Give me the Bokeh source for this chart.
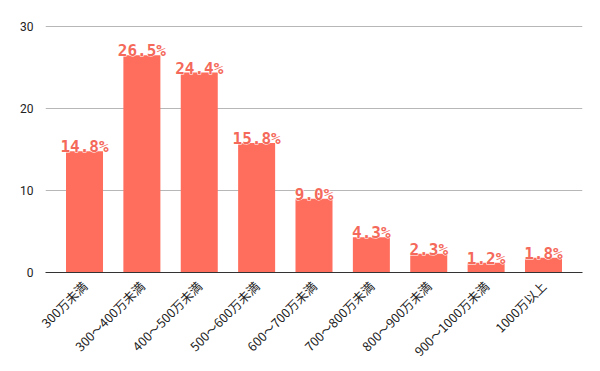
from bokeh.plotting import figure
from bokeh.models import ColumnDataSource, Range1d, FactorRange, FixedTicker
from bokeh.embed import file_html
from bokeh.resources import INLINE
from bokeh.core.properties import value
import math

categories = ["300万未満", "300〜400万未満", "400〜500万未満", "500〜600万未満", "600〜700万未満",
              "700〜800万未満", "800〜900万未満", "900〜1000万未満", "1000万以上"]
values = [14.8, 26.5, 24.4, 15.8, 9.0, 4.3, 2.3, 1.2, 1.8]
labels = ["14.8%", "26.5%", "24.4%", "15.8%", "9.0%", "4.3%", "2.3%", "1.2%", "1.8%"]
y_ticks = [0, 10, 20, 30]

src = ColumnDataSource(dict(cat=categories, val=values, lab=labels))

p = figure(width=600, height=371, output_backend="svg", toolbar_location=None,
           x_range=FactorRange(*categories, range_padding=0.04),
           y_range=Range1d(0, 31),
           min_border_left=45, min_border_right=18, min_border_top=18, min_border_bottom=99)
p.outline_line_color = None
p.background_fill_color = "white"

p.vbar(x="cat", top="val", width=0.645, source=src, color="#ff6d5c", line_color=None)
# white halo under the labels
p.text(x="cat", y="val", text="lab", source=src, text_align="center", text_baseline="bottom",
       text_font=value("DejaVu Sans Mono"), text_font_style="bold", text_font_size="16px",
       text_color="white", outline_color="white", y_offset=5)
p.text(x="cat", y="val", text="lab", source=src, text_align="center", text_baseline="bottom",
       text_font=value("DejaVu Sans Mono"), text_font_style="bold", text_font_size="16px",
       text_color="#f4695a", y_offset=5)

p.xgrid.grid_line_color = None
p.ygrid.grid_line_color = "#b7b7b7"
p.ygrid.ticker = FixedTicker(ticks=y_ticks)

p.yaxis.ticker = FixedTicker(ticks=y_ticks)
p.yaxis.axis_line_color = None
p.yaxis.major_tick_line_color = None
p.yaxis.minor_tick_line_color = None
p.yaxis.major_label_text_font = "Roboto"
p.yaxis.major_label_text_font_size = "12px"
p.yaxis.major_label_text_color = "#222222"
p.yaxis.major_label_standoff = 6

p.xaxis.axis_line_color = "#333333"
p.xaxis.major_tick_line_color = None
p.xaxis.minor_tick_line_color = None
p.xaxis.major_label_orientation = math.pi / 4
p.xaxis.major_label_text_font = "Noto Sans CJK JP"
p.xaxis.major_label_text_font_size = "12.5px"
p.xaxis.major_label_text_color = "#222222"
p.xaxis.major_label_standoff = 5

open("out.html", "w").write(file_html(p, INLINE))
